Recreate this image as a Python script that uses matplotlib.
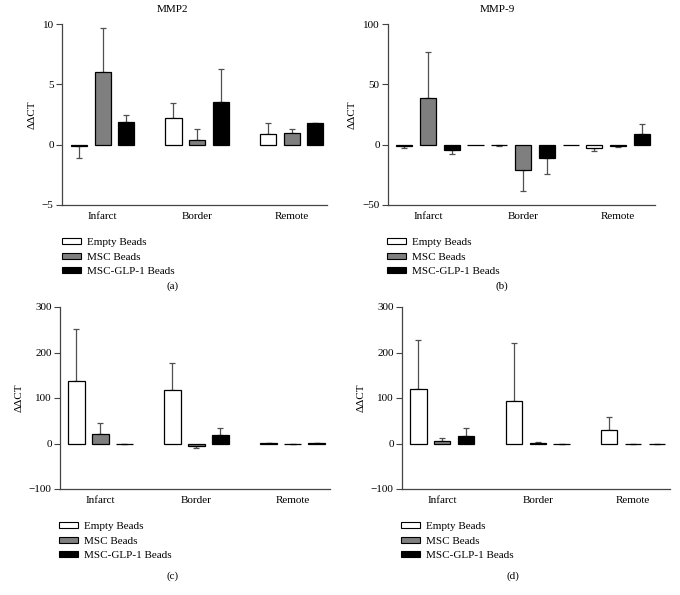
import numpy as np
from matplotlib import pyplot as plt
from matplotlib.patches import Patch

plt.rcParams['font.family'] = ['Liberation Serif', 'DejaVu Serif']
plt.rcParams['font.size'] = 8

groups = ['Infarct', 'Border', 'Remote']
series_names = ['Empty Beads', 'MSC Beads', 'MSC-GLP-1 Beads']
series_colors = ['white', '#7f7f7f', 'black']

# (a) MMP2
a_empty = [-0.15, 2.17, 0.92]
a_empty_err = [0.95, 1.25, 0.91]
a_msc = [6.06, 0.42, 0.97]
a_msc_err = [3.6, 0.9, 0.36]
a_glp = [1.9, 3.53, 1.78]
a_glp_err = [0.6, 2.72, 0.05]

# (b) MMP-9
b_empty = [-1.4, -0.6, -2.8]
b_empty_err = [1.6, 0.4, 2.7]
b_msc = [38.6, -20.8, -1.1]
b_msc_err = [38.4, 17.2, 0.6]
b_glp = [-4.7, -11.0, 8.9]
b_glp_err = [2.8, 13.0, 8.1]
b_gap = [0, 0]

# (c)
c_empty = [137.5, 117.8, 0.5]
c_empty_err = [114.5, 58.2, 0]
c_msc = [20.5, -4.4, -1.5]
c_msc_err = [24.5, 5.1, 0]
c_glp = [-1.0, 19.0, 0.3]
c_glp_err = [0, 15.0, 0]

# (d)
d_empty = [120, 93.6, 29]
d_empty_err = [107, 127.4, 29]
d_msc = [5, 2, -1.5]
d_msc_err = [7, 1.5, 0]
d_glp = [17, -1.5, -1.5]
d_glp_err = [16, 0, 0]


def draw_panel(ax, values, errors, ylim, yticks, xlim, gap=None):
    step = len(series_names) + 1
    for si, (vals, errs) in enumerate(zip(values, errors)):
        vals = np.array(vals, dtype=float)
        errs = np.array(errs, dtype=float)
        x = np.arange(len(groups)) * step + si
        lower = np.where(vals < 0, errs, 0)
        upper = np.where(vals >= 0, errs, 0)
        ax.errorbar(x, vals, yerr=[lower, upper], fmt='none', ecolor='#505050',
                    elinewidth=0.9, capsize=2.5, capthick=0.9, zorder=1)
        ax.bar(x, vals, width=0.68, color=series_colors[si], edgecolor='black',
               linewidth=0.9, zorder=2)
    if gap is not None:
        xg = np.arange(1, len(groups)) * step - 1
        ax.bar(xg, gap, width=0.68, color='white', edgecolor='black',
               linewidth=0.9, zorder=2)
    ax.set_ylim(*ylim)
    ax.set_yticks(yticks)
    ax.set_xlim(*xlim)
    ax.set_xticks(np.arange(len(groups)) * step + 1)
    ax.set_xticklabels(groups)
    ax.tick_params(axis='x', length=0, pad=5)
    ax.tick_params(axis='y', length=4, width=0.8, color='#444444', pad=2)
    for side in ('top', 'right'):
        ax.spines[side].set_visible(False)
    for side in ('left', 'bottom'):
        ax.spines[side].set_color('#444444')
        ax.spines[side].set_linewidth(0.9)


def add_legend(fig, x, y):
    handles = [Patch(facecolor=c, edgecolor='black', linewidth=0.8) for c in series_colors]
    fig.legend(handles, series_names, loc='upper left', bbox_to_anchor=(x, y),
               frameon=False, handlelength=1.7, handleheight=0.45,
               handletextpad=0.55, labelspacing=0.5, borderaxespad=0, borderpad=0)


W, H = 680, 595
fig = plt.figure(figsize=(W / 100, H / 100), dpi=100)


def axes_px(left, top, right, bottom):
    return fig.add_axes([left / W, 1 - bottom / H, (right - left) / W, (bottom - top) / H])


ax_a = axes_px(62, 24, 327, 205)
ax_b = axes_px(388, 24, 655, 205)
ax_c = axes_px(60, 307, 330, 489)
ax_d = axes_px(402, 307, 670, 489)

draw_panel(ax_a, [a_empty, a_msc, a_glp], [a_empty_err, a_msc_err, a_glp_err],
           (-5, 10), [-5, 0, 5, 10], (-0.72, 10.5))
draw_panel(ax_b, [b_empty, b_msc, b_glp], [b_empty_err, b_msc_err, b_glp_err],
           (-50, 100), [-50, 0, 50, 100], (-0.68, 10.55), gap=b_gap)
draw_panel(ax_c, [c_empty, c_msc, c_glp], [c_empty_err, c_msc_err, c_glp_err],
           (-100, 300), [-100, 0, 100, 200, 300], (-0.68, 10.56))
draw_panel(ax_d, [d_empty, d_msc, d_glp], [d_empty_err, d_msc_err, d_glp_err],
           (-100, 300), [-100, 0, 100, 200, 300], (-0.69, 10.55))

for ax in (ax_a, ax_b, ax_c, ax_d):
    ax.set_ylabel('ΔΔCT', labelpad=4)

fig.text(172 / W, 1 - 10 / H, 'MMP2', ha='center', va='center')
fig.text(497 / W, 1 - 10 / H, 'MMP-9', ha='center', va='center')

add_legend(fig, 62 / W, 1 - 238 / H)
add_legend(fig, 387 / W, 1 - 238 / H)
add_legend(fig, 59 / W, 1 - 522 / H)
add_legend(fig, 401 / W, 1 - 522 / H)

fig.text(173 / W, 1 - 286 / H, '(a)', ha='center', va='center')
fig.text(502 / W, 1 - 286 / H, '(b)', ha='center', va='center')
fig.text(173 / W, 1 - 576 / H, '(c)', ha='center', va='center')
fig.text(513 / W, 1 - 576 / H, '(d)', ha='center', va='center')

fig.savefig('out.png', dpi=100)
